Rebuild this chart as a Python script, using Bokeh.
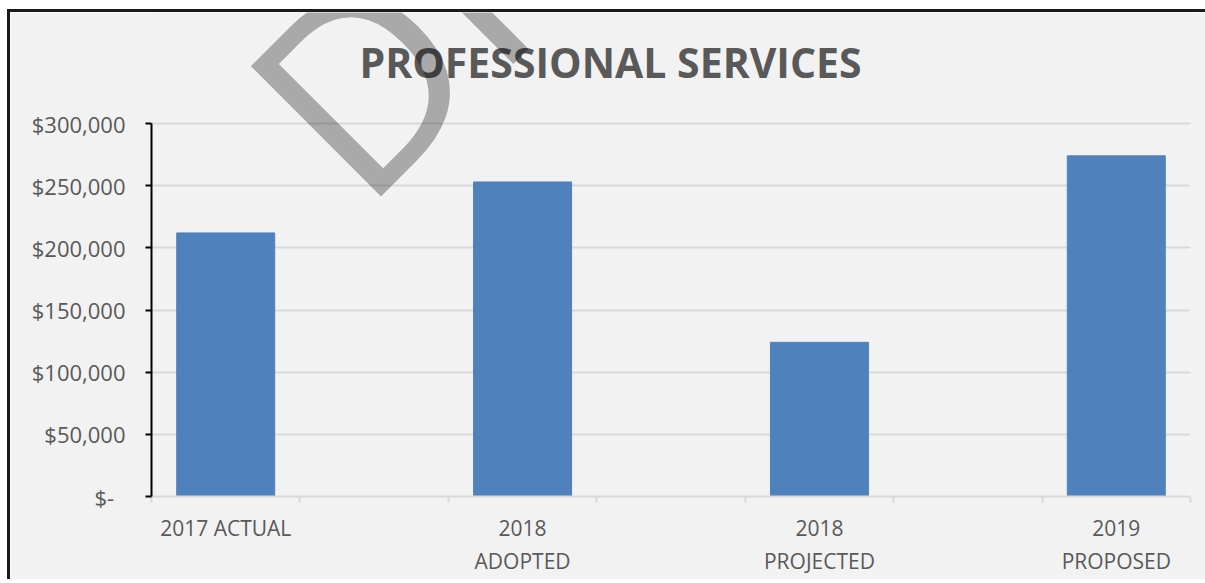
from bokeh.plotting import figure
from bokeh.models import (Range1d, LinearAxis, FixedTicker, Label, ColumnDataSource)
from bokeh.embed import file_html
from bokeh.resources import INLINE

# ---- data ----
categories = ["2017 ACTUAL", "2018 ADOPTED", "2018 PROJECTED", "2019 PROPOSED"]
values = [212000, 253000, 124000, 274000]
x_tick_labels = ["2017 ACTUAL", "2018\nADOPTED", "2018\nPROJECTED", "2019\nPROPOSED"]
y_ticks = [0, 50000, 100000, 150000, 200000, 250000, 300000]
y_tick_labels = ["$-\u00a0\u00a0", "$50,000", "$100,000", "$150,000", "$200,000", "$250,000", "$300,000"]
title_text = "PROFESSIONAL SERVICES"
watermark_text = "DRAFT"

# slots: each category followed by an empty spacer slot (as in the original Excel chart)
slots = []
for i, c in enumerate(categories):
    slots.append(c)
    if i < len(categories) - 1:
        slots.append("")
slot_center = [slots.index(c) + 0.5 for c in categories]

FONT = "Open Sans"
TXT = "#595959"
BG = "#f2f2f2"

W, H = 1200, 570
# the plot frame reaches the top of the canvas (room for title / watermark);
# the value axis itself stops at 300,000
p = figure(width=W, height=H, x_range=Range1d(0, len(slots)),
           y_range=Range1d(0, 389300), output_backend="svg", toolbar_location=None,
           x_axis_location=None, y_axis_location=None, title=None,
           min_border_left=141, min_border_right=20, min_border_top=0, min_border_bottom=86)
p.styles = {"border-top": "3px solid #1a1a1a", "border-left": "3px solid #1a1a1a",
            "margin-top": "9px", "margin-left": "7px"}
p.background_fill_color = BG
p.border_fill_color = BG
p.outline_line_color = None

# y axis
yaxis = LinearAxis(ticker=FixedTicker(ticks=y_ticks, minor_ticks=[]), bounds=(0, 300000))
yaxis.major_label_overrides = {t: l for t, l in zip(y_ticks, y_tick_labels)}
yaxis.axis_line_color = "black"
yaxis.axis_line_width = 2
yaxis.major_tick_line_color = "black"
yaxis.major_tick_line_width = 2
yaxis.major_tick_out = 6
yaxis.major_tick_in = 0
yaxis.minor_tick_line_color = None
yaxis.major_label_text_font = FONT
yaxis.major_label_text_font_size = "22px"
yaxis.major_label_text_color = TXT
yaxis.major_label_standoff = 20
p.add_layout(yaxis, "left")

# x axis: labels at category centres, tick marks between slots
xaxis = LinearAxis(ticker=FixedTicker(ticks=slot_center,
                                      minor_ticks=list(range(len(slots) + 1))))
xaxis.major_label_overrides = {pos: l for pos, l in zip(slot_center, x_tick_labels)}
xaxis.axis_line_color = "#d9d9d9"
xaxis.axis_line_width = 2
xaxis.major_tick_line_color = None
xaxis.minor_tick_line_color = "#d9d9d9"
xaxis.minor_tick_line_width = 2
xaxis.minor_tick_out = 6
xaxis.minor_tick_in = 0
xaxis.major_label_text_font = FONT
xaxis.major_label_text_font_size = "21px"
xaxis.major_label_text_color = TXT
xaxis.major_label_standoff = 11
p.add_layout(xaxis, "below")

p.ygrid.ticker = FixedTicker(ticks=y_ticks)
p.ygrid.grid_line_color = "#d9d9d9"
p.ygrid.grid_line_width = 2
p.xgrid.grid_line_color = None

src = ColumnDataSource(dict(x=slot_center, top=values, name=categories))
p.vbar(x="x", top="top", width=0.66, source=src, fill_color="#4f81bd", line_color="#4f81bd")

title = Label(x=459, y=435, x_units="screen", y_units="screen", text=title_text,
              text_align="center", text_baseline="middle", text_font=FONT,
              text_font_style="bold", text_font_size="41px", text_color=TXT)
p.add_layout(title)

wm = Label(x=141, y=353, x_units="screen", y_units="screen", text=watermark_text,
           angle=45, angle_units="deg", text_align="left", text_baseline="alphabetic",
           text_font=FONT, text_font_size="258px", text_color="black", text_alpha=0.3)
p.add_layout(wm)

open("out.html", "w").write(file_html(p, INLINE))
